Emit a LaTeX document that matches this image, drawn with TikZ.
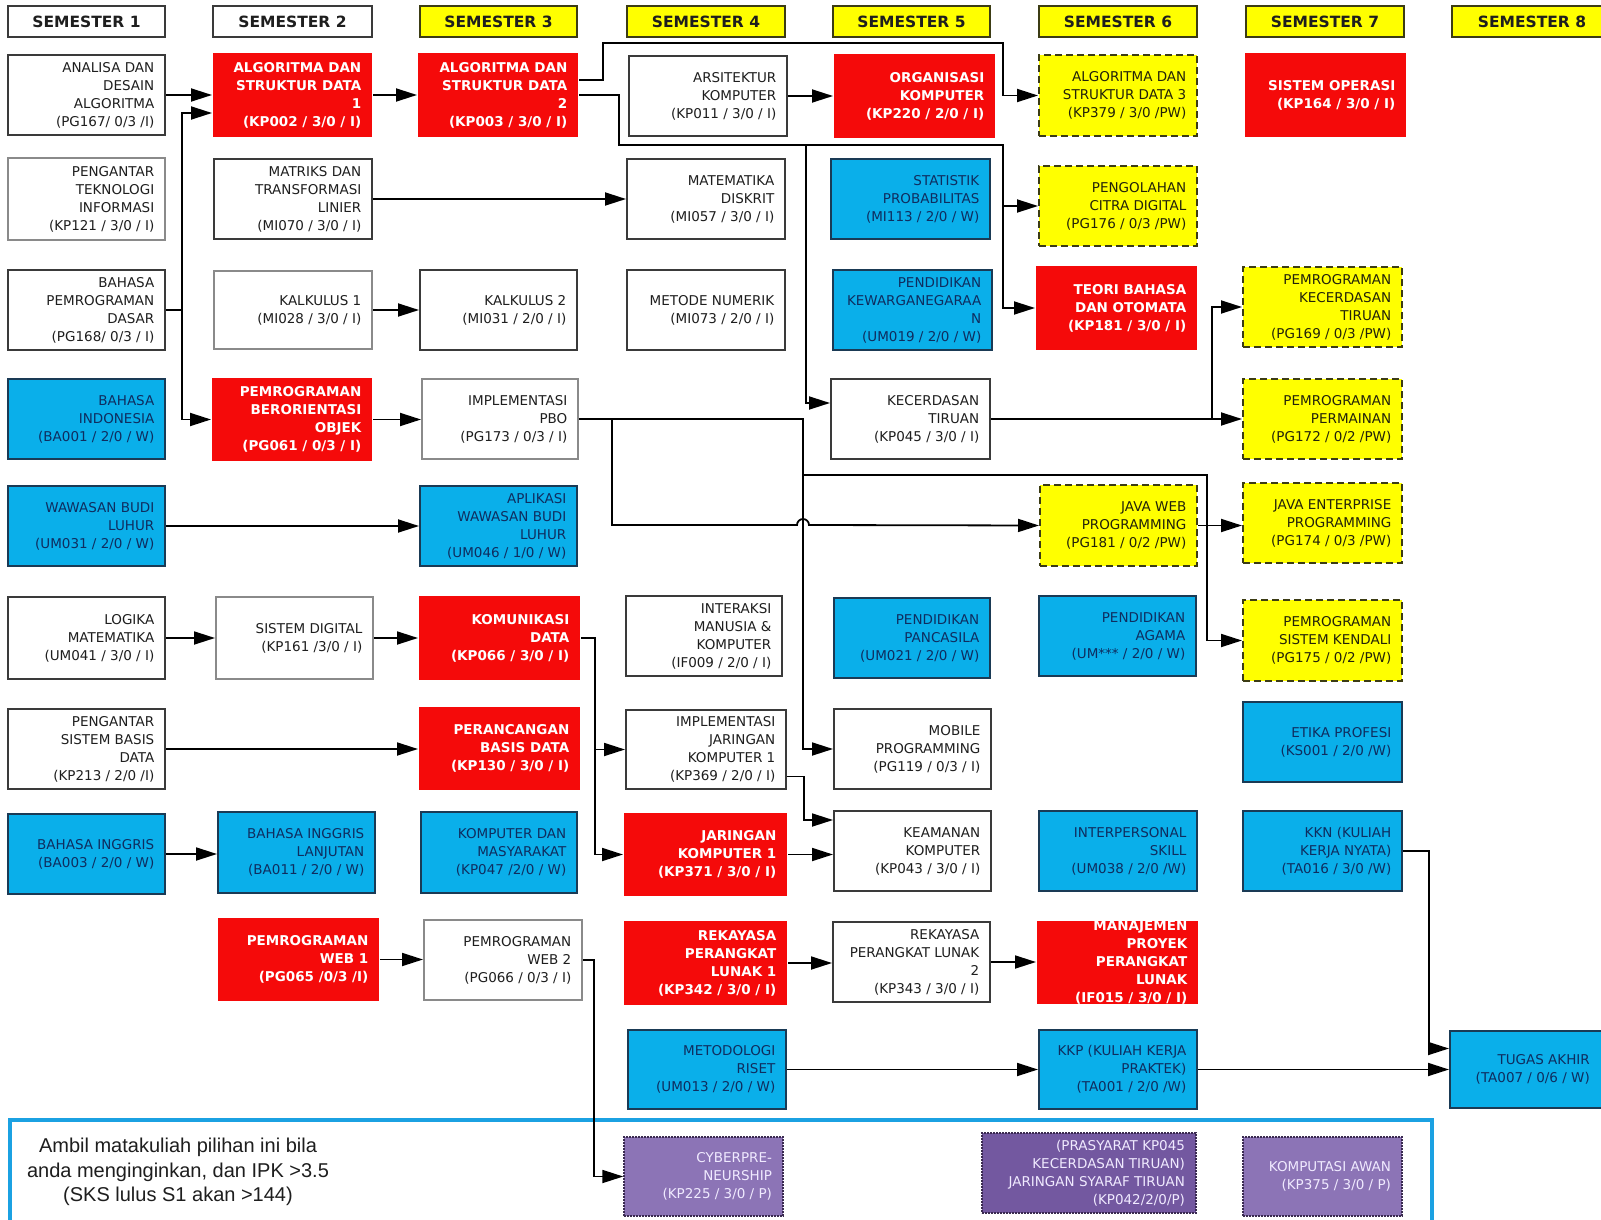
\documentclass[tikz,border=0pt]{standalone}
\usepackage{fontspec}
\setmainfont{DejaVu Sans}
\newfontfamily\notefont{Liberation Sans}
\usetikzlibrary{arrows.meta}
\definecolor{cred}{HTML}{F50A0A}
\definecolor{cblue}{HTML}{0AAFEA}
\definecolor{cyel}{HTML}{FFFF00}
\definecolor{cpurl}{HTML}{8C74B6}
\definecolor{cpurd}{HTML}{7358A0}
\definecolor{wbord}{HTML}{3A3A3A}
\definecolor{wbordl}{HTML}{8A8A8A}
\definecolor{bbord}{HTML}{1A3A55}
\definecolor{ybord}{HTML}{3C3C14}
\definecolor{pbord}{HTML}{3A2A50}
\definecolor{wtext}{HTML}{1E1E1E}
\definecolor{btext}{HTML}{0F2D5F}
\definecolor{ytext}{HTML}{22220A}
\definecolor{ptext}{HTML}{F0EAFF}
\definecolor{framec}{HTML}{1BA1E2}
\tikzset{
 base/.style={rectangle, inner sep=0pt, line width=2pt},
 wb/.style={base, draw=wbord, fill=white},
 wbl/.style={base, draw=wbordl, fill=white},
 rb/.style={base, fill=cred},
 bb/.style={base, draw=bbord, fill=cblue},
 yb/.style={base, draw=ybord, fill=cyel, dash pattern=on 7pt off 4pt},
 pl/.style={base, draw=pbord, fill=cpurl, densely dotted, line width=1.4pt},
 pd/.style={base, draw=pbord, fill=cpurd, densely dotted, line width=1.4pt},
 txt/.style={inner sep=0pt, align=right, font=\fontsize{13.5}{18}\selectfont},
 wbt/.style={txt, text=wtext},
 wblt/.style={txt, text=wtext},
 rbt/.style={txt, text=white, font=\bfseries\fontsize{13.5}{18}\selectfont},
 bbt/.style={txt, text=btext},
 ybt/.style={txt, text=ytext},
 plt/.style={txt, text=ptext},
 pdt/.style={txt, text=ptext},
 hw/.style={base, draw=wbord, fill=white, text=wtext, font=\bfseries\fontsize{15.5}{18}\selectfont},
 hy/.style={hw, fill=cyel, draw=ybord},
 arr/.style={-{Triangle[length=21pt,width=13pt]}, line width=1.8pt, black},
 ln/.style={line width=1.8pt, black},
}
\newcommand\CrsBox[7]{%
 \node[#6, minimum width={(#4)-(#2)}, minimum height={(#5)-(#3)}] (#1) at ({((#2)+(#4))/2},{((#3)+(#5))/2}) {};
 \node[#6t, anchor=east] at ([xshift=-11.5pt]#1.east) {#7};}
\newcommand\SemHead[7]{%
 \node[#6, minimum width={(#4)-(#2)}, minimum height={(#5)-(#3)}] (#1) at ({((#2)+(#4))/2},{((#3)+(#5))/2}) {#7};}
\begin{document}
\begin{tikzpicture}[x=1pt,y=-1pt]
\useasboundingbox (0,0) rectangle (1601,1220);
\fill[white] (0,0) rectangle (1601,1220);
% elective frame
\draw[framec, line width=4pt] (10,1120) rectangle (1432,1240);
\node[font=\notefont\fontsize{20}{24.5}\selectfont, align=center, text=wtext] (note) at (178,1172) {Ambil matakuliah pilihan ini bila\\anda menginginkan, dan IPK >3.5\\(SKS lulus S1 akan >144)};
% headers
\SemHead{h1}{8}{6}{165}{37}{hw}{SEMESTER 1}
\SemHead{h2}{213}{6}{372}{37}{hw}{SEMESTER 2}
\SemHead{h3}{420}{6}{577}{37}{hy}{SEMESTER 3}
\SemHead{h4}{627}{6}{785}{37}{hy}{SEMESTER 4}
\SemHead{h5}{833}{6}{990}{37}{hy}{SEMESTER 5}
\SemHead{h6}{1039}{6}{1197}{37}{hy}{SEMESTER 6}
\SemHead{h7}{1246}{6}{1404}{37}{hy}{SEMESTER 7}
\SemHead{h8}{1452}{6}{1612}{37}{hy}{SEMESTER 8}
% column 1
\CrsBox{ana}{8}{55}{165}{135}{wb}{ANALISA DAN\\DESAIN\\ALGORITMA\\(PG167/ 0/3 /I)}
\CrsBox{pti}{8}{158}{165}{240}{wbl}{PENGANTAR\\TEKNOLOGI\\INFORMASI\\(KP121 / 3/0 / I)}
\CrsBox{bpd}{8}{270}{165}{350}{wb}{BAHASA\\PEMROGRAMAN\\DASAR\\(PG168/ 0/3 / I)}
\CrsBox{bind}{8}{379}{165}{459}{bb}{BAHASA\\INDONESIA\\(BA001 / 2/0 / W)}
\CrsBox{wbluhur}{8}{486}{165}{566}{bb}{WAWASAN BUDI\\LUHUR\\(UM031 / 2/0 / W)}
\CrsBox{logm}{8}{597}{165}{679}{wb}{LOGIKA\\MATEMATIKA\\(UM041 / 3/0 / I)}
\CrsBox{psbd}{8}{709}{165}{789}{wb}{PENGANTAR\\SISTEM BASIS\\DATA\\(KP213 / 2/0 /I)}
\CrsBox{bing}{8}{814}{165}{894}{bb}{BAHASA INGGRIS\\(BA003 / 2/0 / W)}
% column 2
\CrsBox{algA}{213}{53}{372}{137}{rb}{ALGORITMA DAN\\STRUKTUR DATA\\1\\(KP002 / 3/0 / I)}
\CrsBox{matr}{214}{159}{372}{239}{wb}{MATRIKS DAN\\TRANSFORMASI\\LINIER\\(MI070 / 3/0 / I)}
\CrsBox{kalA}{214}{271}{372}{349}{wbl}{KALKULUS 1\\(MI028 / 3/0 / I)}
\CrsBox{pbo}{212}{378}{372}{461}{rb}{PEMROGRAMAN\\BERORIENTASI\\OBJEK\\(PG061 / 0/3 / I)}
\CrsBox{sisd}{216}{597}{373}{679}{wbl}{SISTEM DIGITAL\\(KP161 /3/0 / I)}
\CrsBox{bil}{218}{812}{375}{893}{bb}{BAHASA INGGRIS\\LANJUTAN\\(BA011 / 2/0 / W)}
\CrsBox{pwA}{218}{918}{379}{1001}{rb}{PEMROGRAMAN\\WEB 1\\(PG065 /0/3 /I)}
% column 3
\CrsBox{algB}{418}{53}{578}{137}{rb}{ALGORITMA DAN\\STRUKTUR DATA\\2\\(KP003 / 3/0 / I)}
\CrsBox{kalB}{420}{270}{577}{350}{wb}{KALKULUS 2\\(MI031 / 2/0 / I)}
\CrsBox{ipbo}{422}{379}{578}{459}{wbl}{IMPLEMENTASI\\PBO\\(PG173 / 0/3 / I)}
\CrsBox{awbl}{420}{486}{577}{566}{bb}{APLIKASI\\WAWASAN BUDI\\LUHUR\\(UM046 / 1/0 / W)}
\CrsBox{kom}{419}{596}{580}{680}{rb}{KOMUNIKASI\\DATA\\(KP066 / 3/0 / I)}
\CrsBox{pbd}{419}{707}{580}{790}{rb}{PERANCANGAN\\BASIS DATA\\(KP130 / 3/0 / I)}
\CrsBox{kdm}{421}{812}{577}{893}{bb}{KOMPUTER DAN\\MASYARAKAT\\(KP047 /2/0 / W)}
\CrsBox{pwB}{424}{920}{582}{1000}{wbl}{PEMROGRAMAN\\WEB 2\\(PG066 / 0/3 / I)}
% column 4
\CrsBox{arsi}{629}{56}{787}{136}{wb}{ARSITEKTUR\\KOMPUTER\\(KP011 / 3/0 / I)}
\CrsBox{mdis}{627}{159}{785}{239}{wb}{MATEMATIKA\\DISKRIT\\(MI057 / 3/0 / I)}
\CrsBox{mnum}{627}{270}{785}{350}{wb}{METODE NUMERIK\\(MI073 / 2/0 / I)}
\CrsBox{imk}{626}{596}{782}{676}{wb}{INTERAKSI\\MANUSIA \&\\KOMPUTER\\(IF009 / 2/0 / I)}
\CrsBox{ijk}{626}{710}{786}{789}{wb}{IMPLEMENTASI\\JARINGAN\\KOMPUTER 1\\(KP369 / 2/0 / I)}
\CrsBox{jk}{624}{813}{787}{896}{rb}{JARINGAN\\KOMPUTER 1\\(KP371 / 3/0 / I)}
\CrsBox{rplA}{624}{921}{787}{1005}{rb}{REKAYASA\\PERANGKAT\\LUNAK 1\\(KP342 / 3/0 / I)}
\CrsBox{mris}{628}{1030}{786}{1109}{bb}{METODOLOGI\\RISET\\(UM013 / 2/0 / W)}
\CrsBox{cyb}{624}{1137}{783}{1216}{pl}{CYBERPRE-\\NEURSHIP\\(KP225 / 3/0 / P)}
% column 5
\CrsBox{ork}{834}{54}{995}{138}{rb}{ORGANISASI\\KOMPUTER\\(KP220 / 2/0 / I)}
\CrsBox{stat}{831}{159}{990}{239}{bb}{STATISTIK\\PROBABILITAS\\(MI113 / 2/0 / W)}
\CrsBox{pkn}{833}{270}{992}{350}{bb}{PENDIDIKAN\\KEWARGANEGARAA\\N\\(UM019 / 2/0 / W)}
\CrsBox{ai}{831}{379}{990}{459}{wb}{KECERDASAN\\TIRUAN\\(KP045 / 3/0 / I)}
\CrsBox{panc}{834}{598}{990}{678}{bb}{PENDIDIKAN\\PANCASILA\\(UM021 / 2/0 / W)}
\CrsBox{mob}{834}{709}{991}{789}{wb}{MOBILE\\PROGRAMMING\\(PG119 / 0/3 / I)}
\CrsBox{keam}{834}{811}{991}{891}{wb}{KEAMANAN\\KOMPUTER\\(KP043 / 3/0 / I)}
\CrsBox{rplB}{833}{922}{990}{1002}{wb}{REKAYASA\\PERANGKAT LUNAK\\2\\(KP343 / 3/0 / I)}
% column 6
\CrsBox{algC}{1039}{55}{1197}{136}{yb}{ALGORITMA DAN\\STRUKTUR DATA 3\\(KP379 / 3/0 /PW)}
\CrsBox{pcd}{1039}{166}{1197}{246}{yb}{PENGOLAHAN\\CITRA DIGITAL\\(PG176 /  0/3 /PW)}
\CrsBox{tbo}{1036}{266}{1197}{350}{rb}{TEORI BAHASA\\DAN OTOMATA\\(KP181 / 3/0 / I)}
\CrsBox{jwp}{1040}{485}{1197}{566}{yb}{JAVA WEB\\PROGRAMMING\\(PG181 / 0/2 /PW)}
\CrsBox{agm}{1039}{596}{1196}{676}{bb}{PENDIDIKAN\\AGAMA\\(UM*** / 2/0 / W)}
\CrsBox{ips}{1039}{811}{1197}{891}{bb}{INTERPERSONAL\\SKILL\\(UM038 / 2/0 /W)}
\CrsBox{mppl}{1037}{921}{1198}{1004}{rb}{MANAJEMEN\\PROYEK\\PERANGKAT\\LUNAK\\(IF015 / 3/0 / I)}
\CrsBox{kkp}{1039}{1030}{1197}{1109}{bb}{KKP (KULIAH KERJA\\PRAKTEK)\\(TA001 / 2/0 /W)}
\CrsBox{jst}{982}{1133}{1196}{1213}{pd}{(PRASYARAT KP045\\KECERDASAN TIRUAN)\\JARINGAN SYARAF TIRUAN\\(KP042/2/0/P)}
% column 7
\CrsBox{so}{1245}{53}{1406}{137}{rb}{SISTEM OPERASI\\(KP164 / 3/0 / I)}
\CrsBox{pkt}{1243}{267}{1402}{347}{yb}{PEMROGRAMAN\\KECERDASAN\\TIRUAN\\(PG169 / 0/3 /PW)}
\CrsBox{pp}{1243}{379}{1402}{459}{yb}{PEMROGRAMAN\\PERMAINAN\\(PG172 / 0/2 /PW)}
\CrsBox{jep}{1243}{483}{1402}{563}{yb}{JAVA ENTERPRISE\\PROGRAMMING\\(PG174 / 0/3 /PW)}
\CrsBox{psk}{1243}{600}{1402}{681}{yb}{PEMROGRAMAN\\SISTEM KENDALI\\(PG175 / 0/2 /PW)}
\CrsBox{etk}{1243}{702}{1402}{782}{bb}{ETIKA PROFESI\\(KS001 / 2/0 /W)}
\CrsBox{kkn}{1243}{811}{1402}{891}{bb}{KKN (KULIAH\\KERJA NYATA)\\(TA016 / 3/0 /W)}
\CrsBox{awan}{1243}{1137}{1402}{1216}{pl}{KOMPUTASI AWAN\\(KP375 / 3/0 / P)}
% column 8
\node[bb, minimum width=165, minimum height=77] (ta) at (1532.5,1069.5) {};
\node[bbt, anchor=east] at (1590,1069.5) {TUGAS AKHIR\\(TA007 / 0/6 / W)};
% junction coordinates
\coordinate (xv) at (803,0);
\coordinate (jA) at (1003,145);
\coordinate (jB) at (806,145);
\coordinate (jD) at (803,475);
\coordinate (jE) at (612,419);
\coordinate (jF) at (1212,419);
% connectors
\draw[arr] (ana.east) -- (ana.east -| algA.west);
\draw[arr] (bpd.east) -- ++(16,0) |- ([yshift=-18pt]algA.west);
\draw[arr] (bpd.east) -- ++(16,0) |- (pbo.west);
\draw[arr] (algA.east) -- (algB.west);
\draw[arr] ([yshift=15pt]algB.east) -- ++(24,0) |- (1003,43) |- (algC.west);
\draw[arr] (algB.east) -- ++(40,0) |- (jA) |- (pcd.west);
\draw[arr] (jA) |- (tbo.west);
\draw[arr] (jB) |- ([yshift=16pt]ai.west);
\draw[arr] (matr.east) -- (matr.east -| mdis.west);
\draw[arr] (kalA.east) -- (kalA.east -| kalB.west);
\draw[arr] (pbo.east) -- (pbo.east -| ipbo.west);
\draw[arr] (arsi.east) -- (arsi.east -| ork.west);
\draw[arr] (ipbo.east) -- (ipbo.east -| xv) |- (mob.west);
\draw[arr] (jD) -- (1207,475) |- (psk.west);
\draw[arr] (jE) -- (612,525) -- (797,525) arc[start angle=180,end angle=0,radius=6pt] -- (jwp.west);
\draw[arr] (jwp.east) -- (jwp.east -| jep.west);
\draw[arr] (ai.east) -- (ai.east -| pp.west);
\draw[arr] (jF) |- (pkt.west);
\draw[arr] (wbluhur.east) -- (wbluhur.east -| awbl.west);
\draw[arr] (logm.east) -- (logm.east -| sisd.west);
\draw[arr] (sisd.east) -- (sisd.east -| kom.west);
\draw[arr] (kom.east) -- ++(14,0) |- (ijk.west);
\draw[arr] (kom.east) -- ++(14,0) |- (jk.west);
\draw[arr] (psbd.east) -- (psbd.east -| pbd.west);
\draw[arr] ([yshift=-27pt]ijk.east) -- ++(17,0) |- ([yshift=31pt]keam.west);
\draw[arr] (jk.east) -- (jk.east -| keam.west);
\draw[arr] (bing.east) -- (bing.east -| bil.west);
\draw[arr] (pwA.east) -- (pwA.east -| pwB.west);
\draw[arr] (pwB.east) -- ++(11,0) |- (cyb.west);
\draw[arr] (rplA.east) -- (rplA.east -| rplB.west);
\draw[arr] (rplB.east) -- (rplB.east -| mppl.west);
\draw[arr] (mris.east) -- (mris.east -| kkp.west);
\draw[arr] (kkp.east) -- (kkp.east -| ta.west);
\draw[arr] (kkn.east) -- ++(26,0) |- ([yshift=21pt]ta.west);
\end{tikzpicture}
\end{document}
